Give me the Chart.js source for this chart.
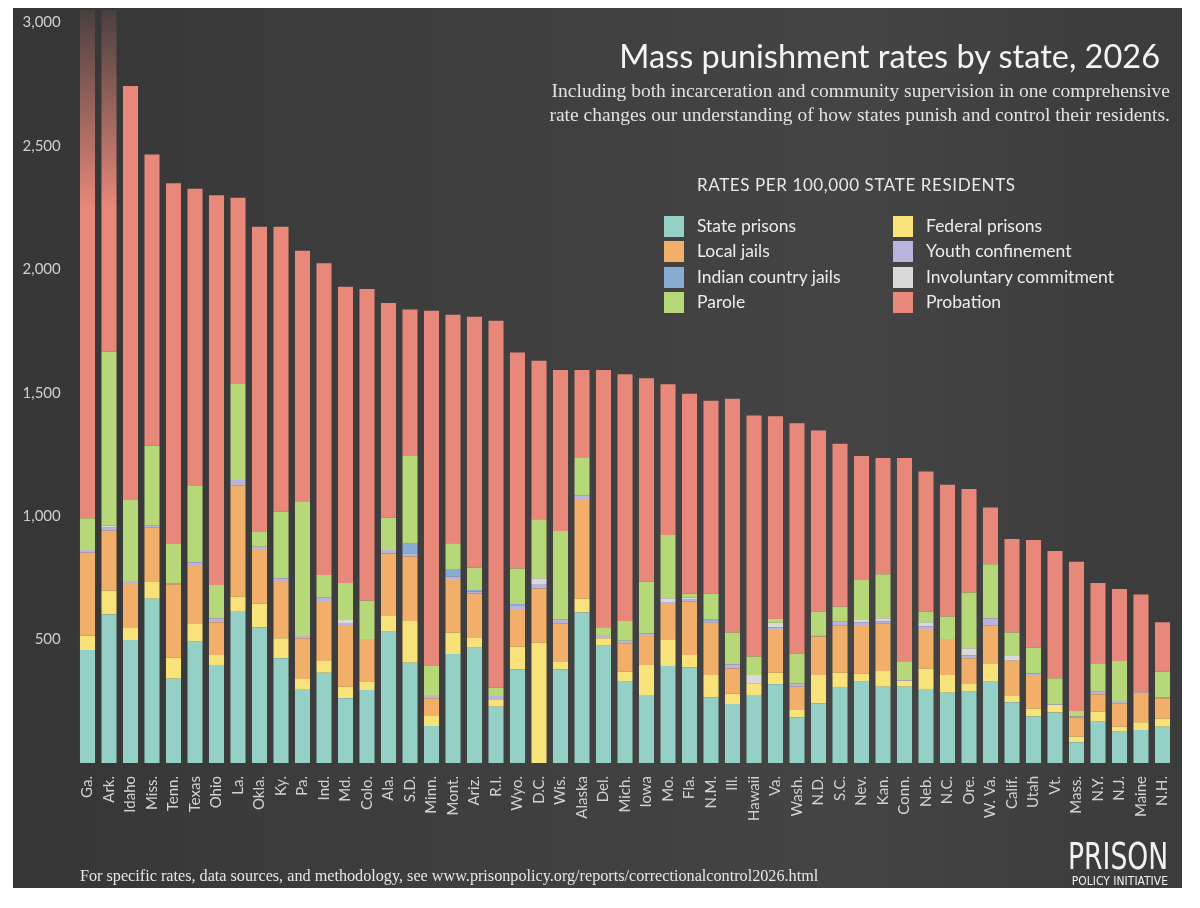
<!DOCTYPE html>
<html>
<head>
<meta charset="utf-8">
<script src="https://cdn.jsdelivr.net/npm/chart.js@4.4.1/dist/chart.umd.min.js"></script>
<style>
    html, body { margin: 0; padding: 0; background: #fff; }
    #wrap { position: relative; width: 1200px; height: 908px; overflow: hidden; }
    #panel {
        position: absolute; left: 13px; top: 8px; width: 1169px; height: 880px;
        background: linear-gradient(90deg, #363636 0%, #3e3e3e 35%, #444 72%, #3b3b3b 100%);
    }
    #chart { position: absolute; left: 0; top: 0; }
    .title {
        position: absolute; right: 40px; top: 36px;
        font-family: Lato, sans-serif; font-size: 32.5px; color: #f4f4f4; white-space: nowrap;
    }
    .subtitle {
        position: absolute; right: 30px; top: 79px; text-align: right;
        font-family: "Liberation Serif", serif; font-size: 19.5px; line-height: 24px; color: #e2e2e2;
    }
    .legend-head {
        position: absolute; left: 697px; top: 175px;
        font-family: Lato, sans-serif; font-size: 17px; line-height: 20px; color: #e8e8e8; letter-spacing: 0.6px;
    }
    .legend { position: absolute; top: 213px; font-family: Lato, sans-serif; font-size: 17.5px; color: #ececec; }
    .legend div { height: 25.3px; line-height: 25.3px; white-space: nowrap; }
    .legend span.sw { display: inline-block; width: 20px; height: 21px; vertical-align: -5px; margin-right: 13px; }
    .footer {
        position: absolute; left: 80px; top: 867px;
        font-family: "Liberation Serif", serif; font-size: 16.2px; color: #e6e6e6; white-space: nowrap;
    }
    .logo1 {
        position: absolute; right: 32px; top: 838px;
        font-family: "Liberation Sans Narrow", "DejaVu Sans Condensed", sans-serif; font-size: 37px; line-height: 37px;
        color: #f2f2f2; transform: scaleX(0.8); transform-origin: right center;
    }
    .logo2 {
        position: absolute; right: 32px; top: 875px;
        font-family: "Liberation Sans Narrow", "DejaVu Sans Condensed", sans-serif; font-size: 12px; line-height: 12px;
        color: #f2f2f2;
    }
</style>
</head>
<body>
<div id="wrap">
    <div id="panel"></div>
    <canvas id="chart" width="1200" height="908"></canvas>
    <div class="title">Mass punishment rates by state, 2026</div>
    <div class="subtitle">Including both incarceration and community supervision in one comprehensive<br>rate changes our understanding of how states punish and control their residents.</div>
    <div class="legend-head">RATES PER 100,000 STATE RESIDENTS</div>
    <div class="legend" id="legendA" style="left:664px"></div>
    <div class="legend" id="legendB" style="left:893px"></div>
    <div class="footer">For specific rates, data sources, and methodology, see www.prisonpolicy.org/reports/correctionalcontrol2026.html</div>
    <div class="logo1">PRISON</div>
    <div class="logo2">POLICY INITIATIVE</div>
</div>
<script>
// States, sorted by total rate
const states = ['Ga.', 'Ark.', 'Idaho', 'Miss.', 'Tenn.', 'Texas', 'Ohio', 'La.', 'Okla.', 'Ky.',
    'Pa.', 'Ind.', 'Md.', 'Colo.', 'Ala.', 'S.D.', 'Minn.', 'Mont.', 'Ariz.', 'R.I.',
    'Wyo.', 'D.C.', 'Wis.', 'Alaska', 'Del.', 'Mich.', 'Iowa', 'Mo.', 'Fla.', 'N.M.',
    'Ill.', 'Hawaii', 'Va.', 'Wash.', 'N.D.', 'S.C.', 'Nev.', 'Kan.', 'Conn.', 'Neb.',
    'N.C.', 'Ore.', 'W. Va.', 'Calif.', 'Utah', 'Vt.', 'Mass.', 'N.Y.', 'N.J.', 'Maine', 'N.H.'];

// Rates per 100,000 residents
const statePrisons = [458, 602, 498, 665, 341, 491, 397, 616, 550, 424,
    300, 366, 262, 296, 532, 406, 150, 441, 467, 228,
    379, 0, 379, 610, 475, 329, 275, 393, 388, 265,
    239, 275, 319, 184, 242, 305, 329, 309, 309, 300,
    285, 289, 329, 246, 188, 205, 84, 167, 127, 134, 147];
const federalPrisons = [58, 96, 49, 68, 86, 75, 40, 58, 95, 81,
    40, 47, 47, 32, 66, 169, 40, 88, 42, 30,
    92, 487, 30, 55, 30, 41, 122, 108, 49, 91,
    43, 48, 47, 31, 114, 61, 34, 64, 23, 83,
    71, 34, 72, 25, 33, 30, 23, 41, 20, 31, 32];
const localJails = [336, 243, 178, 222, 297, 236, 133, 449, 218, 232,
    165, 243, 250, 170, 251, 261, 72, 216, 178, 0,
    149, 220, 157, 400, 0, 115, 117, 143, 216, 212,
    101, 0, 173, 94, 156, 190, 196, 193, 0, 156,
    142, 101, 155, 143, 135, 0, 78, 70, 95, 120, 83];
const youthConfinement = [11, 12, 12, 6, 4, 11, 16, 23, 13, 11,
    9, 15, 8, 4, 14, 14, 13, 10, 8, 13,
    16, 18, 16, 20, 13, 10, 11, 8, 8, 7,
    17, 0, 10, 14, 6, 16, 10, 8, 3, 15,
    4, 12, 30, 0, 7, 3, 3, 11, 9, 3, 3];
const indianCountryJails = [0, 0, 0, 0, 0, 0, 0, 0, 0, 0,
    0, 0, 0, 0, 0, 38, 0, 31, 6, 0,
    8, 0, 0, 0, 0, 0, 0, 0, 0, 8,
    0, 0, 0, 0, 0, 0, 0, 0, 0, 0,
    0, 0, 0, 0, 0, 0, 0, 0, 0, 0, 0];
const involuntaryCommitment = [0, 8, 0, 0, 0, 0, 0, 0, 0, 0,
    0, 0, 12, 0, 0, 0, 0, 0, 0, 0,
    0, 23, 0, 0, 0, 0, 0, 15, 9, 0,
    0, 33, 19, 0, 0, 0, 10, 12, 0, 16,
    0, 29, 0, 19, 0, 0, 0, 0, 0, 0, 0];
const parole = [128, 705, 328, 324, 162, 309, 135, 389, 60, 270,
    546, 90, 150, 155, 130, 355, 118, 104, 90, 35,
    144, 239, 358, 153, 32, 80, 209, 256, 17, 104,
    129, 75, 15, 121, 95, 61, 162, 179, 77, 43,
    91, 226, 219, 96, 104, 105, 23, 115, 162, 0, 105];
const probation = [2409, 1684, 1677, 1180, 1458, 1204, 1579, 755, 1236, 1154,
    1015, 1263, 1200, 1263, 870, 594, 1439, 926, 1017, 1485,
    875, 642, 652, 354, 1042, 1000, 824, 611, 809, 780,
    946, 977, 821, 932, 734, 660, 502, 470, 823, 568,
    534, 419, 230, 378, 436, 516, 604, 325, 292, 395, 200];

const yTicks = [500, 1000, 1500, 2000, 2500, 3000];

const COLORS = {
    state: '#95d0c6',
    federal: '#f8e27a',
    local: '#f2af6a',
    indian: '#86acd4',
    youth: '#b8b4dc',
    invol: '#d9d9d9',
    parole: '#b7d878',
    probation: '#e8887a'
};

// Ga. and Ark. run off the top of the scale, so their probation bars fade out
function probationColor(ctx) {
    const chart = ctx.chart;
    if (ctx.type !== 'data' || ctx.dataIndex > 1 || !chart.chartArea) return COLORS.probation;
    const y = chart.scales.y;
    const g = chart.ctx.createLinearGradient(0, y.getPixelForValue(2250), 0, chart.chartArea.top);
    g.addColorStop(0, COLORS.probation);
    g.addColorStop(1, 'rgba(232,136,122,0.1)');
    return g;
}

const datasets = [
    { label: 'State prisons', data: statePrisons, backgroundColor: COLORS.state },
    { label: 'Federal prisons', data: federalPrisons, backgroundColor: COLORS.federal },
    { label: 'Local jails', data: localJails, backgroundColor: COLORS.local },
    { label: 'Youth confinement', data: youthConfinement, backgroundColor: COLORS.youth },
    { label: 'Indian country jails', data: indianCountryJails, backgroundColor: COLORS.indian },
    { label: 'Involuntary commitment', data: involuntaryCommitment, backgroundColor: COLORS.invol },
    { label: 'Parole', data: parole, backgroundColor: COLORS.parole },
    { label: 'Probation', data: probation, backgroundColor: probationColor }
];

// Two-column legend, in the order of the original
const legendColumns = [
    ['State prisons', 'Local jails', 'Indian country jails', 'Parole'],
    ['Federal prisons', 'Youth confinement', 'Involuntary commitment', 'Probation']
];
const legendColor = {
    'State prisons': COLORS.state, 'Local jails': COLORS.local, 'Indian country jails': COLORS.indian,
    'Parole': COLORS.parole, 'Federal prisons': COLORS.federal, 'Youth confinement': COLORS.youth,
    'Involuntary commitment': COLORS.invol, 'Probation': COLORS.probation
};
['legendA', 'legendB'].forEach((id, i) => {
    document.getElementById(id).innerHTML = legendColumns[i]
        .map(name => `<div><span class="sw" style="background:${legendColor[name]}"></span>${name}</div>`)
        .join('');
});

new Chart(document.getElementById('chart'), {
    type: 'bar',
    data: { labels: states, datasets },
    options: {
        responsive: false,
        animation: false,
        devicePixelRatio: 1,
        layout: { padding: { top: 10, left: 0, right: 26.75, bottom: 0 } },
        datasets: { bar: { barPercentage: 0.70, categoryPercentage: 1.0 } },
        plugins: { legend: { display: false }, tooltip: { enabled: false } },
        scales: {
            x: {
                stacked: true,
                grid: { display: false },
                border: { display: false },
                ticks: {
                    minRotation: 90, maxRotation: 90, autoSkip: false, padding: 5,
                    color: '#d2d2d2', font: { family: 'Lato', size: 15 }
                },
                afterFit: axis => { axis.height = 145; }
            },
            y: {
                stacked: true,
                min: 0,
                max: 3050,
                grid: { display: false, drawTicks: false },
                border: { display: false },
                ticks: {
                    padding: 16, color: '#cfcfcf', font: { family: 'Lato', size: 15 },
                    callback: v => v.toLocaleString('en-US')
                },
                afterBuildTicks: axis => { axis.ticks = yTicks.map(v => ({ value: v })); },
                afterFit: axis => {
                    axis.width = 76.75;
                    axis.paddingTop = 0;
                    axis.paddingBottom = 0;
                }
            }
        }
    }
});
</script>
</body>
</html>
